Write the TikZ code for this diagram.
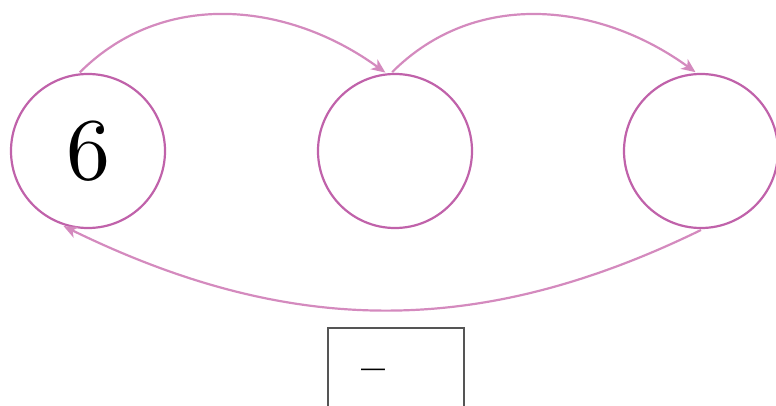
\documentclass[tikz,border=0pt]{standalone}
\usepackage{graphicx}
\usetikzlibrary{arrows.meta}
\definecolor{ringcol}{RGB}{192,98,170}
\definecolor{arrcol}{RGB}{212,138,190}
\definecolor{boxcol}{RGB}{85,85,85}
\begin{document}
\begin{tikzpicture}[x=1pt,y=1pt,
  ring/.style={circle,draw=ringcol,line width=2.2pt,minimum size=154pt,inner sep=0pt,outer sep=2pt},
  flow/.style={draw=arrcol,line width=2.2pt,-{Stealth[length=14pt,width=12pt,inset=4pt]}},
  holder/.style={draw=boxcol,line width=1.8pt,minimum width=136pt,minimum height=110pt,inner sep=0pt}]
\useasboundingbox (0,0) rectangle (776,405);
\node[ring] (c1) at (88,254) {\raisebox{-5pt}{\scalebox{8.8}{6}}};
\node[ring] (c2) at (395,254) {};
\node[ring] (c3) at (701,254) {};
\node[holder,anchor=north west] (box) at (327,78) {};
\node[inner sep=0pt,anchor=base] (dash) at (373,17) {\scalebox{4.8}[7]{\textendash}};
\draw[flow] (c1.96) to[out=45,in=144] (c2.97);
\draw[flow] (c2.92) to[out=45,in=144] (c3.94);
\draw[flow] (c3.270) to[out=-154,in=-26] (c1.252);
\end{tikzpicture}
\end{document}
